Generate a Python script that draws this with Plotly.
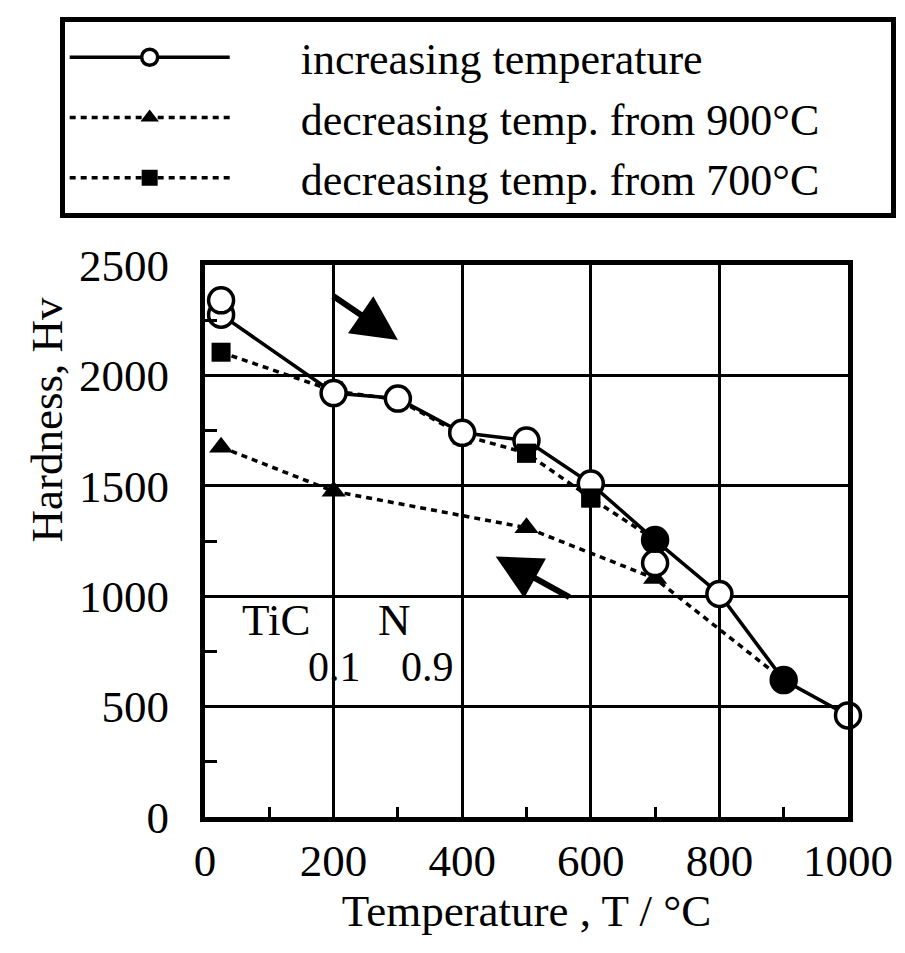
import plotly.graph_objects as go

# ---- data ----
INC_T = [25, 200, 300, 400, 500, 600, 700, 800, 900, 1000]
INC_HV = [2275, 1920, 1895, 1740, 1705, 1510, 1254, 1010, 620, 460]

INC_EXTRA_T = [25, 700]
INC_EXTRA_HV = [2340, 1150]

DEC900_T = [25, 200, 500, 700, 900]
DEC900_HV = [1675, 1475, 1310, 1080, 620]

DEC700_T = [25, 200, 300, 400, 500, 600, 700]
DEC700_HV = [2105, 1930, 1890, 1730, 1648, 1445, 1254]

FILLED_T = [700, 900]
FILLED_HV = [1254, 620]

X_TICKS = [0, 200, 400, 600, 800, 1000]
Y_TICKS = [0, 500, 1000, 1500, 2000, 2500]

LEGEND_NAMES = ["increasing temperature",
                "decreasing temp. from 900°C",
                "decreasing temp. from 700°C"]

FONT = "Liberation Serif"
BLACK = "black"
NB = "\u00a0"


def lname(s):
    return NB * 6 + s + NB * 6


fig = go.Figure()

# decreasing from 700 (dashed, squares) - drawn first
fig.add_trace(go.Scatter(
    x=DEC700_T, y=DEC700_HV, mode="lines+markers",
    name=lname(LEGEND_NAMES[2]),
    line=dict(color=BLACK, width=3.5, dash="6px,5px"),
    marker=dict(symbol="square", size=19, color=BLACK),
    cliponaxis=False, legendrank=3))

# decreasing from 900 (dotted, triangles)
fig.add_trace(go.Scatter(
    x=DEC900_T, y=DEC900_HV, mode="lines+markers",
    name=lname(LEGEND_NAMES[1]),
    line=dict(color=BLACK, width=3.5, dash="6px,5px"),
    marker=dict(symbol="triangle-up", size=21, color=BLACK),
    cliponaxis=False, legendrank=2))

# increasing temperature (solid, open circles)
fig.add_trace(go.Scatter(
    x=INC_T, y=INC_HV, mode="lines+markers",
    name=lname(LEGEND_NAMES[0]),
    line=dict(color=BLACK, width=3.5),
    marker=dict(symbol="circle", size=25, color="white",
                line=dict(color=BLACK, width=3.5)),
    cliponaxis=False, legendrank=1))

fig.add_trace(go.Scatter(
    x=INC_EXTRA_T, y=INC_EXTRA_HV, mode="markers", showlegend=False,
    marker=dict(symbol="circle", size=25, color="white",
                line=dict(color=BLACK, width=3.5)),
    cliponaxis=False))

# squares visible on top of the circles at 500/600 °C
over_t = [t for t in DEC700_T if 500 <= t <= 600]
over_hv = [h for t, h in zip(DEC700_T, DEC700_HV) if 500 <= t <= 600]
fig.add_trace(go.Scatter(
    x=over_t, y=over_hv, mode="markers", showlegend=False,
    marker=dict(symbol="square", size=19, color=BLACK), cliponaxis=False))

# filled (overlapping) points
fig.add_trace(go.Scatter(
    x=FILLED_T, y=FILLED_HV, mode="markers", showlegend=False,
    marker=dict(symbol="circle", size=26, color=BLACK), cliponaxis=False))

axis_common = dict(
    showline=True, linecolor=BLACK, linewidth=5, mirror=True,
    showgrid=True, gridcolor=BLACK, gridwidth=2.5, zeroline=False,
    ticks="inside", ticklen=10, tickwidth=3, tickcolor=BLACK,
    tickfont=dict(family=FONT, size=45, color=BLACK),
)

fig.update_xaxes(
    range=[0, 1000], tickvals=X_TICKS, ticktext=[str(v) for v in X_TICKS],
    minor=dict(dtick=100, tick0=0, ticks="inside", ticklen=10, tickwidth=3,
               tickcolor=BLACK, showgrid=False),
    title=dict(text="Temperature , T / °C", standoff=2,
               font=dict(family=FONT, size=45, color=BLACK)),
    ticklabelstandoff=0,
    **axis_common)

fig.update_yaxes(
    range=[0, 2500], tickvals=Y_TICKS, ticktext=[str(v) for v in Y_TICKS],
    minor=dict(dtick=250, tick0=0, ticks="inside", ticklen=12, tickwidth=3,
               tickcolor=BLACK, showgrid=False),
    ticklabelstandoff=22,
    **axis_common)

annotations = [
    dict(text="Hardness, Hv", xref="paper", yref="paper", x=-0.246, y=0.72,
         xanchor="center", yanchor="middle",
         textangle=-90, showarrow=False,
         font=dict(family=FONT, size=45, color=BLACK)),
    dict(text="TiC", x=111, y=892, showarrow=False,
         font=dict(family=FONT, size=45, color=BLACK)),
    dict(text="N", x=295, y=892, showarrow=False,
         font=dict(family=FONT, size=45, color=BLACK)),
    dict(text="0.1", x=202, y=680, showarrow=False,
         font=dict(family=FONT, size=42, color=BLACK)),
    dict(text="0.9", x=346, y=680, showarrow=False,
         font=dict(family=FONT, size=42, color=BLACK)),
    # arrows
    dict(text="", x=300, y=2160, ax=197, ay=2364, axref="x", ayref="y",
         showarrow=True, arrowhead=2, arrowsize=1.5, arrowwidth=6,
         arrowcolor=BLACK),
    dict(text="", x=452, y=1180, ax=569, ay=992, axref="x", ayref="y",
         showarrow=True, arrowhead=2, arrowsize=1.5, arrowwidth=6,
         arrowcolor=BLACK),
]

fig.update_layout(
    width=905, height=953,
    margin=dict(l=205, r=50, t=265, b=136),
    paper_bgcolor="white", plot_bgcolor="white",
    annotations=annotations,
    showlegend=True,
    legend=dict(x=-0.226, y=1.449, xanchor="left", yanchor="top",
                bgcolor="white", bordercolor=BLACK, borderwidth=5,
                font=dict(family=FONT, size=44, color=BLACK),
                itemwidth=160, traceorder="normal"),
)

fig.write_html("out.html")
